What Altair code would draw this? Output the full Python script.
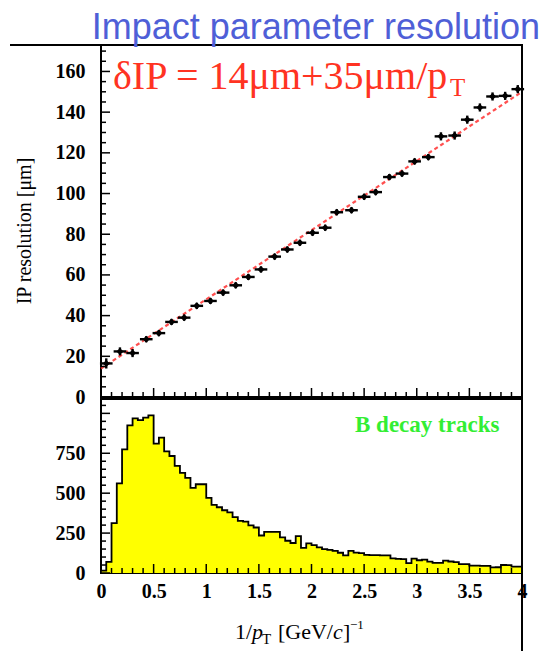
import altair as alt
import pandas as pd

# ---------------- data ----------------
ip_x = [0.05, 0.18, 0.30, 0.43, 0.55, 0.67, 0.79, 0.91, 1.04, 1.16, 1.28,
        1.40, 1.52, 1.65, 1.77, 1.89, 2.01, 2.13, 2.24, 2.38, 2.50, 2.61,
        2.74, 2.86, 2.98, 3.11, 3.23, 3.36, 3.48, 3.60, 3.72, 3.84, 3.96]
ip_y = [16.5, 22.4, 21.6, 28.4, 31.4, 36.9, 39.0, 44.8, 47.2, 51.3, 54.9,
        59.0, 62.7, 69.0, 72.5, 75.8, 80.7, 83.2, 90.8, 91.8, 98.4, 100.7,
        108.1, 109.8, 115.8, 117.9, 128.1, 128.5, 136.3, 142.3, 147.7, 148.0, 151.3]
ip_xerr = [0.06] * len(ip_x)
ip_yerr = [2.5, 2.0, 2.0, 1.5, 1.5, 1.5, 1.5, 1.5, 1.5, 1.5, 1.5,
           1.5, 1.5, 1.5, 1.5, 1.5, 1.5, 1.5, 1.5, 1.5, 1.5, 1.5,
           1.5, 1.5, 1.5, 1.5, 2.0, 2.0, 2.0, 2.0, 2.0, 2.0, 2.0]

fit_x = [0.0, 4.0]
fit_y = [14.0, 150.0]

hist_counts = [15, 70, 312, 562, 775, 925, 969, 958, 973, 987,
               810, 848, 762, 733, 671, 627, 596, 533, 556, 556,
               470, 427, 412, 393, 380, 350, 327, 322, 298, 285,
               235, 258, 258, 258, 223, 202, 188, 231, 158, 186,
               175, 160, 150, 145, 138, 127, 110, 138, 128, 124,
               113, 112, 112, 110, 110, 92, 88, 87, 62, 90,
               80, 84, 71, 64, 63, 77, 72, 68, 56, 55,
               46, 46, 45, 45, 35, 36, 50, 49, 40, 40]
bin_width = 0.05
hist_edges = [round(i * bin_width, 2) for i in range(len(hist_counts))] + [4.0]

top_y_labels = [0, 20, 40, 60, 80, 100, 120, 140, 160]
top_y_minor = [v for v in range(0, 171, 5) if v % 20 != 0]
bot_y_major = [0, 250, 500, 750, 1000]
bot_y_labels = [0, 250, 500, 750]
bot_y_minor = [v for v in range(50, 1090, 50) if v % 250 != 0]
x_major = [0, 0.5, 1, 1.5, 2, 2.5, 3, 3.5, 4]
x_minor = [round(i * 0.1, 1) for i in range(1, 40) if i % 5 != 0]

# ---------------- geometry ----------------
W = 421
H_TOP = 352
H_BOT = 174
SERIF = "Liberation Serif"

xs = alt.Scale(domain=[0, 4], nice=False, zero=False)
ys_top = alt.Scale(domain=[0, 173], nice=False)
ys_bot = alt.Scale(domain=[0, 1090], nice=False)

ax_x_top = None
ax_y_top = alt.Axis(values=top_y_labels, ticks=False, domain=False, grid=False,
                    title=None, labelPadding=16)
ax_x_bot = alt.Axis(values=x_major, format="~g", ticks=False, domain=False,
                    grid=False, title=None, labelPadding=8, labelFlush=False)
ax_y_bot = alt.Axis(values=bot_y_labels, ticks=False, domain=False, grid=False,
                    title=None, labelPadding=16)

one = pd.DataFrame({"a": [0]})


def label(text, x, y, size, color="black", font=SERIF, weight="normal",
          style="normal", align="left", baseline="alphabetic", angle=0):
    kw = dict(text=text, fontSize=size, color=color, font=font,
              fontWeight=weight, fontStyle=style, align=align, baseline=baseline)
    if angle:
        kw["angle"] = angle
    return alt.Chart(one).mark_text(**kw).encode(x=alt.value(x), y=alt.value(y))


def yticks(values, scale, ax, length):
    d = pd.DataFrame({"v": values})
    return alt.Chart(d).mark_rule(color="black", strokeWidth=1.5).encode(
        y=alt.Y("v:Q", scale=scale, axis=ax),
        x=alt.value(0), x2=alt.value(length))


def xticks(values, ax, h, length):
    d = pd.DataFrame({"v": values})
    return alt.Chart(d).mark_rule(color="black", strokeWidth=1.5).encode(
        x=alt.X("v:Q", scale=xs, axis=ax),
        y=alt.value(h), y2=alt.value(h - length))


# ---------------- top panel ----------------
pts = pd.DataFrame({
    "x": ip_x, "y": ip_y,
    "xlo": [a - b for a, b in zip(ip_x, ip_xerr)],
    "xhi": [a + b for a, b in zip(ip_x, ip_xerr)],
    "ylo": [a - b for a, b in zip(ip_y, ip_yerr)],
    "yhi": [a + b for a, b in zip(ip_y, ip_yerr)],
})
fit = pd.DataFrame({"x": fit_x, "y": fit_y})

fit_line = alt.Chart(fit).mark_line(color="#ff3030", strokeWidth=2.2,
                                    strokeDash=[4, 3], opacity=0.85).encode(
    x=alt.X("x:Q", scale=xs, axis=ax_x_top),
    y=alt.Y("y:Q", scale=ys_top, axis=ax_y_top))
xerr = alt.Chart(pts).mark_rule(color="black", strokeWidth=2.4).encode(
    x=alt.X("xlo:Q", scale=xs, axis=ax_x_top), x2="xhi:Q",
    y=alt.Y("y:Q", scale=ys_top, axis=ax_y_top))
yerr = alt.Chart(pts).mark_rule(color="black", strokeWidth=2.4).encode(
    x=alt.X("x:Q", scale=xs, axis=ax_x_top),
    y=alt.Y("ylo:Q", scale=ys_top, axis=ax_y_top), y2="yhi:Q")
marks = alt.Chart(pts).mark_point(filled=True, shape="diamond", size=50,
                                  color="black", opacity=1).encode(
    x=alt.X("x:Q", scale=xs, axis=ax_x_top),
    y=alt.Y("y:Q", scale=ys_top, axis=ax_y_top))

top_line = alt.Chart(one).mark_rule(color="black", strokeWidth=2).encode(
    x=alt.value(-91), x2=alt.value(W), y=alt.value(0))

top = alt.layer(
    fit_line, xerr, yerr, marks,
    yticks(top_y_labels, ys_top, ax_y_top, 9), yticks(top_y_minor, ys_top, ax_y_top, 5),
    xticks(x_major, ax_x_top, H_TOP, 9), xticks(x_minor, ax_x_top, H_TOP, 5),
    top_line,
    label("Impact parameter resolution", W + 18, -6, 36, color="#4f5fd7",
          font="Liberation Sans", align="right"),
    label("\u03b4IP = 14\u03bcm+35\u03bcm/p", 12, 44, 40, color="#ff3322"),
    label("T", 349, 51, 25, color="#ff3322"),
    label("IP resolution [\u03bcm]", -76, 186, 20, angle=270, align="center",
          baseline="middle"),
).properties(width=W, height=H_TOP)

# ---------------- bottom panel ----------------
hist = pd.DataFrame({"x": hist_edges, "y": hist_counts + [hist_counts[-1]]})

area = alt.Chart(hist).mark_area(interpolate="step-after", color="#ffff00",
                                 opacity=1).encode(
    x=alt.X("x:Q", scale=xs, axis=ax_x_bot),
    y=alt.Y("y:Q", scale=ys_bot, axis=ax_y_bot))
outline = alt.Chart(hist).mark_line(interpolate="step-after", color="black",
                                    strokeWidth=1.8).encode(
    x=alt.X("x:Q", scale=xs, axis=ax_x_bot),
    y=alt.Y("y:Q", scale=ys_bot, axis=ax_y_bot))

right_line = alt.Chart(one).mark_rule(color="black", strokeWidth=2).encode(
    x=alt.value(W), y=alt.value(0), y2=alt.value(252))

bottom = alt.layer(
    area, outline,
    yticks(bot_y_major, ys_bot, ax_y_bot, 9), yticks(bot_y_minor, ys_bot, ax_y_bot, 5),
    xticks(x_major, ax_x_bot, H_BOT, 9), xticks(x_minor, ax_x_bot, H_BOT, 5),
    right_line,
    label("B decay tracks", 254, 33, 23, color="#33ee33", weight="bold"),
    label("1/", 134, 240, 22),
    label("p", 151, 240, 22, style="italic"),
    label("T", 161, 245, 15),
    label("[GeV/", 177, 240, 22),
    label("c", 232, 240, 22, style="italic"),
    label("]", 242, 240, 22),
    label("\u22121", 249, 230, 13),
).properties(width=W, height=H_BOT)

chart = alt.vconcat(top, bottom, spacing=2, bounds="flush").properties(
    padding={"left": 8, "top": 9, "right": 5, "bottom": 0}
).configure_axis(
    labelFont=SERIF, labelFontSize=20, labelFontWeight="bold", labelColor="black"
).configure_view(stroke="black", strokeWidth=2)

chart.save("out.html", embed_options={"renderer": "svg", "actions": False})
